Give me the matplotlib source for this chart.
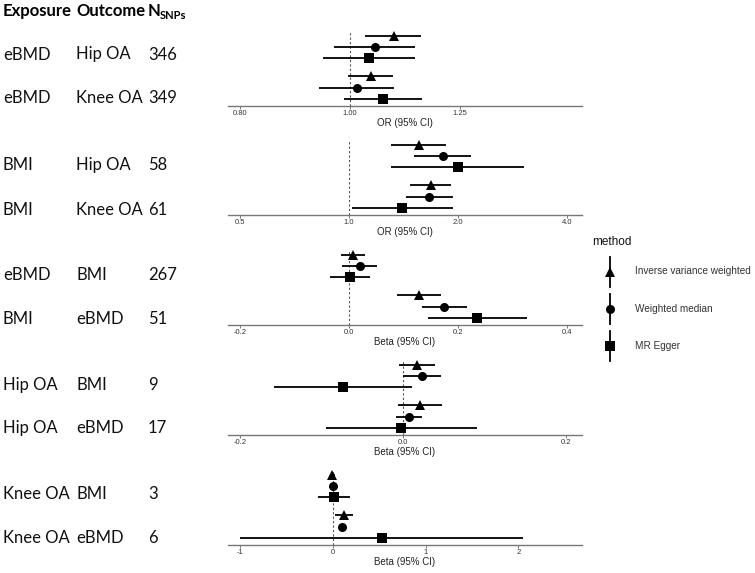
import matplotlib
matplotlib.use("Agg")
import matplotlib.pyplot as plt
import numpy as np

# ---------------- data ----------------
methods = ["Inverse variance weighted", "Weighted median", "MR Egger"]
exposures = ["eBMD", "eBMD", "BMI", "BMI", "eBMD", "BMI", "Hip OA", "Hip OA", "Knee OA", "Knee OA"]
outcomes = ["Hip OA", "Knee OA", "Hip OA", "Knee OA", "BMI", "eBMD", "BMI", "eBMD", "BMI", "eBMD"]
n_snps = ["346", "349", "58", "61", "267", "51", "9", "17", "3", "6"]

ivw_est = [1.093, 1.044, 1.557, 1.684, 0.0074, 0.128, 0.018, 0.0216, -0.003, 0.126]
ivw_lo = [1.032, 0.997, 1.303, 1.477, -0.0147, 0.0872, -0.0042, -0.0054, -0.02, 0.026]
ivw_hi = [1.156, 1.091, 1.856, 1.916, 0.0282, 0.168, 0.0397, 0.0478, 0.02, 0.223]

wm_est = [1.052, 1.014, 1.818, 1.663, 0.0196, 0.175, 0.024, 0.0074, 0.000, 0.097]
wm_lo = [0.969, 0.940, 1.515, 1.434, -0.0129, 0.133, 0.000, -0.0086, -0.02, 0.07]
wm_hi = [1.142, 1.093, 2.170, 1.933, 0.0516, 0.216, 0.0466, 0.024, 0.02, 0.12]

egger_est = [1.040, 1.070, 2.000, 1.403, 0.0024, 0.234, -0.0736, -0.002, 0.011, 0.528]
egger_lo = [0.946, 0.989, 1.309, 1.019, -0.0345, 0.144, -0.1575, -0.094, -0.157, -1.005]
egger_hi = [1.142, 1.157, 3.050, 1.933, 0.038, 0.326, 0.011, 0.0908, 0.183, 2.055]

panel_xlabels = ["OR (95% CI)", "OR (95% CI)", "Beta (95% CI)", "Beta (95% CI)", "Beta (95% CI)"]
panel_ticks = [[0.80, 1.00, 1.25], [0.5, 1.0, 2.0, 4.0], [-0.2, 0.0, 0.2, 0.4], [-0.2, 0.0, 0.2], [-1, 0, 1, 2]]
panel_ticklabels = [["0.80", "1.00", "1.25"], ["0.5", "1.0", "2.0", "4.0"], ["-0.2", "0.0", "0.2", "0.4"],
                    ["-0.2", "0.0", "0.2"], ["-1", "0", "1", "2"]]
panel_log = [True, True, False, False, False]
panel_null = [1.0, 1.0, 0.0, 0.0, 0.0]
panel_xlim = [(0.781, 1.601), (0.463, 4.40), (-0.2225, 0.4276), (-0.2144, 0.220), (-1.129, 2.686)]

# ---------------- layout ----------------
W, H = 755, 573
fig = plt.figure(figsize=(W / 100, H / 100), dpi=100)
fig.patch.set_facecolor("white")

def fx(px):
    return px / W

def fy(py):
    return 1 - py / H

ax_left, ax_right = 228, 582
panel_bottoms = [106, 215, 325, 435, 545]
panel_h = 75

est_all = [ivw_est, wm_est, egger_est]
lo_all = [ivw_lo, wm_lo, egger_lo]
hi_all = [ivw_hi, wm_hi, egger_hi]
markers = ["^", "o", "s"]
msizes = [7.8, 6.5, 6.8]
offsets = [0.28, 0.0, -0.28]

for p in range(5):
    b = panel_bottoms[p]
    ax = fig.add_axes([fx(ax_left), fy(b), fx(ax_right - ax_left), panel_h / H])
    if panel_log[p]:
        ax.set_xscale("log")
    ax.set_xlim(*panel_xlim[p])
    ax.set_ylim(0.56, 2.39)
    ax.axvline(panel_null[p], color="#555555", lw=0.8, ls=(0, (2, 2)), zorder=1)
    for g in range(2):
        r = 2 * p + g
        ypos = 2 - g
        for m in range(3):
            y = ypos + offsets[m]
            ax.plot([lo_all[m][r], hi_all[m][r]], [y, y], color="black", lw=1.3,
                    solid_capstyle="butt", zorder=2)
            ax.plot(est_all[m][r], y, marker=markers[m], ms=msizes[m], color="black",
                    markeredgewidth=0, zorder=3)
    for s in ["top", "right", "left"]:
        ax.spines[s].set_visible(False)
    ax.spines["bottom"].set_color("#777777")
    ax.spines["bottom"].set_linewidth(1.0)
    ax.set_yticks([])
    ax.set_xticks(panel_ticks[p])
    ax.set_xticklabels(panel_ticklabels[p])
    ax.xaxis.set_minor_locator(matplotlib.ticker.NullLocator())
    ax.tick_params(axis="x", length=2.2, width=0.7, color="#777777", pad=0.8,
                   labelsize=5.5, labelcolor="#333333")
    for t in ax.get_xticklabels():
        t.set_fontfamily("Liberation Sans")
    ax.set_xlabel(panel_xlabels[p], fontsize=7, color="#222222", labelpad=0.5,
                  fontfamily="Liberation Sans")
    ax.patch.set_alpha(0)

# ---------------- left columns ----------------
col_x = [3, 76, 148]
fig.text(fx(col_x[0]), fy(16), "Exposure", fontsize=12, fontweight="bold",
         fontfamily="Lato", va="baseline", ha="left")
fig.text(fx(col_x[1]), fy(16), "Outcome", fontsize=12, fontweight="bold",
         fontfamily="Lato", va="baseline", ha="left")
fig.text(fx(col_x[2]), fy(16), "N", fontsize=12, fontweight="bold",
         fontfamily="Lato", va="baseline", ha="left")
fig.text(fx(160), fy(19), "SNPs", fontsize=8, fontweight="bold",
         fontfamily="Lato", va="baseline", ha="left")

row_baselines = [59.5, 103.5, 170, 215, 280, 324, 390, 433, 499, 543]
for r in range(10):
    for c, txt in enumerate([exposures[r], outcomes[r], n_snps[r]]):
        fig.text(fx(col_x[c]), fy(row_baselines[r]), txt, fontsize=12,
                 fontfamily="Lato", va="baseline", ha="left", color="#111111")

# ---------------- legend ----------------
lax = fig.add_axes([fx(585), fy(380), fx(170), 160 / H])
lax.set_xlim(585, 755)
lax.set_ylim(380, 220)
lax.axis("off")
lax.text(592, 242, "method", fontsize=8.5, fontfamily="Liberation Sans", va="center",
         ha="left", color="#111111")
leg_y = [271.5, 309, 346]
for m in range(3):
    y = leg_y[m]
    lax.plot([610, 610], [y - 15, y + 15], color="black", lw=1.3)
    lax.plot(610, y, marker=markers[m], ms=msizes[m], color="black", markeredgewidth=0)
    lax.text(635, y, methods[m], fontsize=7.2, fontfamily="Liberation Sans",
             va="center", ha="left", color="#333333")

fig.savefig("out.png", dpi=100)
